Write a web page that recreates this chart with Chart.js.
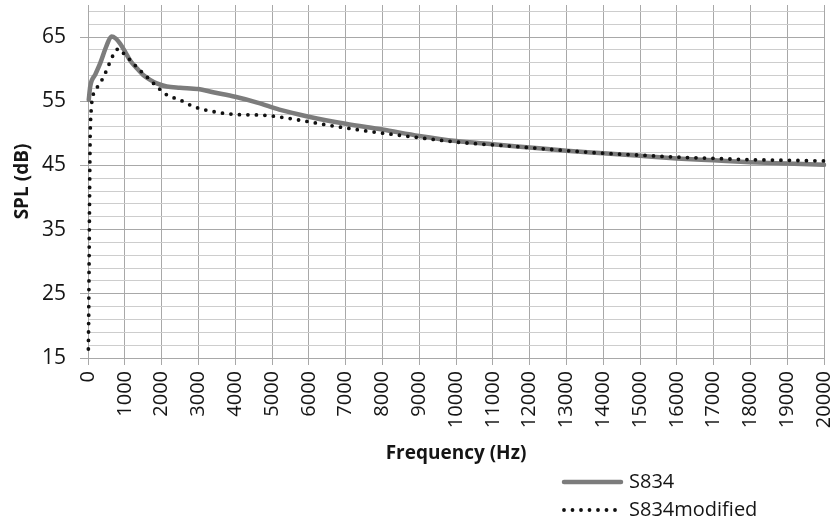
<!DOCTYPE html>
<html>
<head>
<meta charset="utf-8">
<script src="https://cdn.jsdelivr.net/npm/chart.js@4/dist/chart.umd.min.js"></script>
<style>
  html, body { margin: 0; padding: 0; background: #ffffff; }
  #wrap { width: 836px; height: 522px; }
</style>
</head>
<body>
<div id="wrap"><canvas id="spl" width="836" height="522"></canvas></div>
<script>
// Series names
const seriesNames = ['S834', 'S834modified'];

// S834: frequency (Hz) and SPL (dB)
const freqS834 = [20, 60, 200, 330, 500, 640, 750, 870, 1000, 1150, 1300, 1500, 1700, 1870, 2140, 2500, 3000, 3400, 4000, 4600, 5200, 6000, 7000, 8000, 9000, 10000, 11000, 12000, 13000, 14000, 15000, 16000, 17000, 18000, 19000, 20000];
const splS834 = [55.2, 57.3, 59.2, 60.9, 63.6, 65.1, 64.8, 64.0, 62.8, 61.3, 60.3, 59.1, 58.3, 57.8, 57.3, 57.1, 56.9, 56.4, 55.7, 54.8, 53.7, 52.6, 51.5, 50.6, 49.6, 48.8, 48.3, 47.8, 47.3, 46.9, 46.5, 46.1, 45.8, 45.5, 45.3, 45.1];

// S834modified: frequency (Hz) and SPL (dB)
const freqMod = [10, 20, 30, 40, 50, 60, 80, 110, 160, 330, 510, 640, 740, 830, 960, 1100, 1230, 1400, 1600, 1870, 2140, 2500, 2860, 3400, 4000, 4700, 5000, 5600, 6500, 7400, 8750, 10100, 11500, 12800, 14000, 15000, 16000, 17000, 18000, 19000, 20000];
const splMod = [16.4, 22.0, 30.0, 38.0, 45.0, 50.0, 53.0, 55.2, 56.3, 57.8, 59.9, 61.7, 62.7, 63.2, 62.5, 61.7, 60.9, 59.9, 58.8, 57.3, 56.0, 55.2, 54.2, 53.4, 52.95, 52.85, 52.7, 52.2, 51.3, 50.5, 49.5, 48.6, 48.0, 47.4, 46.9, 46.6, 46.3, 46.1, 45.9, 45.8, 45.7];

// Axis ticks
const xTickValues = [0, 1000, 2000, 3000, 4000, 5000, 6000, 7000, 8000, 9000, 10000, 11000, 12000, 13000, 14000, 15000, 16000, 17000, 18000, 19000, 20000];
const yLabelValues = [15, 25, 35, 45, 55, 65];
const yGridValues = [15, 17, 19, 21, 23, 25, 27, 29, 31, 33, 35, 37, 39, 41, 43, 45, 47, 49, 51, 53, 55, 57, 59, 61, 63, 65, 67, 69];

const TEXT = '#151515';
const FONT = "'Open Sans', 'Noto Sans', sans-serif";
const MAJOR_GRID = '#a8a8a8';
const MINOR_GRID = '#cdcdcd';

const toPoints = (xs, ys) => xs.map((x, i) => ({ x: x, y: ys[i] }));
const isLabelled = v => yLabelValues.includes(v);

// Legend stacked under the plot, bottom right
const stackedLegend = {
  id: 'stackedLegend',
  afterDraw(chart) {
    const ctx = chart.ctx;
    const rows = [482, 510];
    chart.data.datasets.forEach((ds, i) => {
      const y = rows[i];
      ctx.save();
      ctx.strokeStyle = ds.borderColor;
      ctx.lineWidth = ds.borderWidth;
      ctx.lineCap = ds.borderCapStyle || 'butt';
      ctx.setLineDash(ds.borderDash || []);
      ctx.beginPath();
      ctx.moveTo(564, y);
      ctx.lineTo(621, y);
      ctx.stroke();
      ctx.setLineDash([]);
      ctx.fillStyle = TEXT;
      ctx.font = '20px ' + FONT;
      ctx.textAlign = 'left';
      ctx.textBaseline = 'middle';
      ctx.fillText(ds.label, 629, y);
      ctx.restore();
    });
  }
};

new Chart(document.getElementById('spl'), {
  type: 'line',
  data: {
    datasets: [
      {
        label: seriesNames[0],
        data: toPoints(freqS834, splS834),
        borderColor: '#7c7c7c',
        borderWidth: 4.5,
        pointRadius: 0,
        cubicInterpolationMode: 'monotone',
        borderCapStyle: 'round',
        borderJoinStyle: 'round',
        clip: 8,
        order: 1
      },
      {
        label: seriesNames[1],
        data: toPoints(freqMod, splMod),
        borderColor: '#111111',
        borderWidth: 3.8,
        borderDash: [0, 8.5],
        borderCapStyle: 'round',
        pointRadius: 0,
        cubicInterpolationMode: 'monotone',
        clip: 8,
        order: 0
      }
    ]
  },
  options: {
    responsive: false,
    animation: false,
    devicePixelRatio: 1,
    layout: { padding: { top: 5, right: 12, bottom: 57, left: 0 } },
    plugins: {
      legend: { display: false },
      tooltip: { enabled: false }
    },
    scales: {
      x: {
        type: 'linear',
        min: 0,
        max: 20000,
        afterBuildTicks: s => { s.ticks = xTickValues.map(v => ({ value: v })); },
        afterFit: s => { s.height = 107; s.paddingLeft = 0; s.paddingRight = 0; },
        ticks: {
          autoSkip: false,
          minRotation: 90,
          maxRotation: 90,
          padding: 6,
          color: TEXT,
          font: { family: FONT, size: 20 },
          callback: v => String(v)
        },
        grid: { color: MAJOR_GRID, lineWidth: 1, tickLength: 7, tickColor: MAJOR_GRID },
        border: { color: MAJOR_GRID, width: 1 },
        title: {
          display: true,
          text: 'Frequency (Hz)',
          color: TEXT,
          padding: 0,
          font: { family: FONT, size: 19, weight: 'bold' }
        }
      },
      y: {
        type: 'linear',
        min: 15,
        max: 70,
        afterBuildTicks: s => { s.ticks = yGridValues.map(v => ({ value: v })); },
        afterFit: s => { s.width = 88; s.paddingTop = 0; s.paddingBottom = 0; },
        ticks: {
          autoSkip: false,
          padding: 14,
          color: TEXT,
          font: { family: FONT, size: 21 },
          callback: v => (isLabelled(v) ? String(v) : '')
        },
        grid: {
          lineWidth: 1,
          tickLength: 8,
          color: c => (isLabelled(c.tick.value) ? MAJOR_GRID : MINOR_GRID),
          tickColor: c => (isLabelled(c.tick.value) ? MAJOR_GRID : 'rgba(0,0,0,0)')
        },
        border: { color: MAJOR_GRID, width: 1 },
        title: {
          display: true,
          text: 'SPL (dB)',
          color: TEXT,
          padding: { top: 11, bottom: 0 },
          font: { family: FONT, size: 19, weight: 'bold' }
        }
      }
    }
  },
  plugins: [stackedLegend]
});
</script>
</body>
</html>
